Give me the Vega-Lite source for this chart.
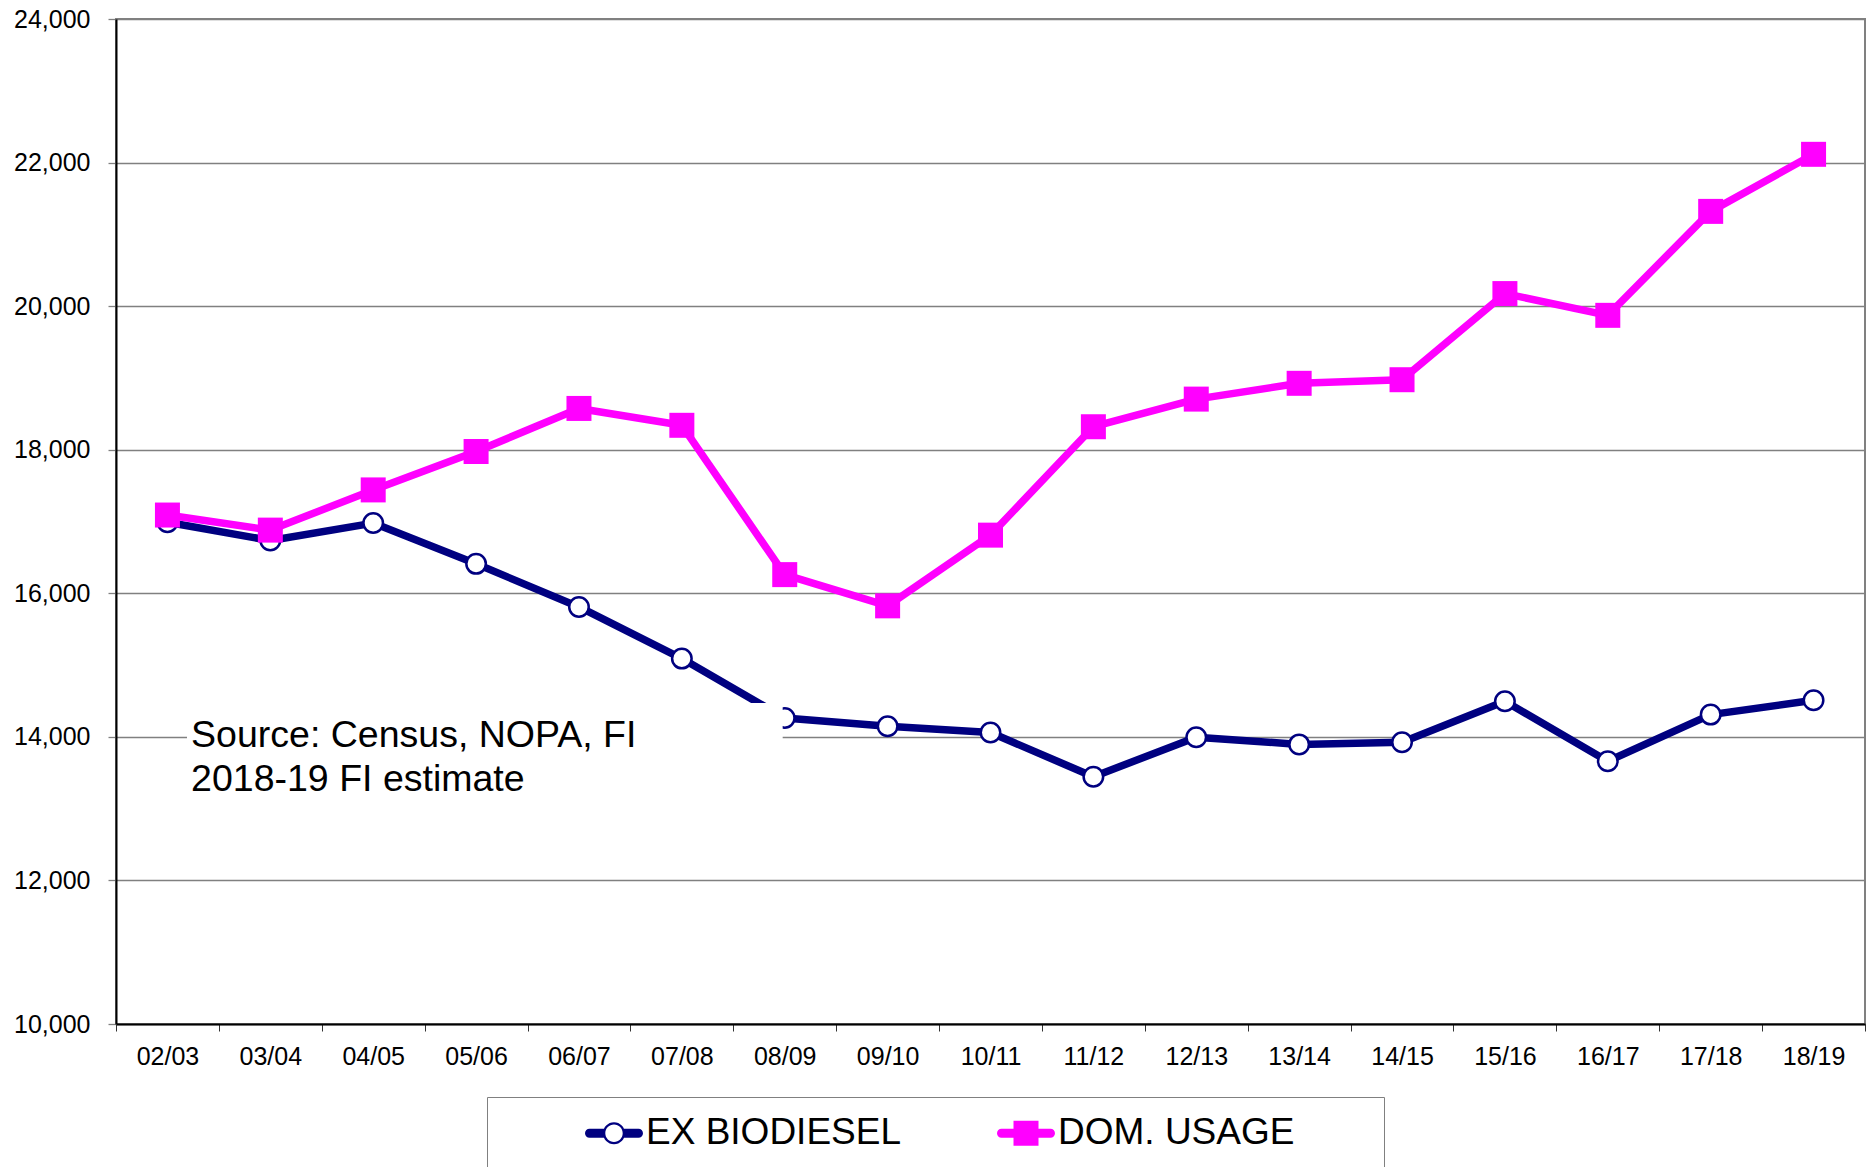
{
  "$schema": "https://vega.github.io/schema/vega-lite/v6.json",
  "width": 1749,
  "height": 1005,
  "autosize": {"type": "none"},
  "padding": {"left": 116, "top": 19, "right": 8, "bottom": 143},
  "background": "white",
  "config": {
    "font": "Liberation Sans",
    "view": {"stroke": "#808080", "strokeWidth": 2},
    "axis": {"labelFont": "Liberation Sans", "labelColor": "black", "labelFontSize": 25, "title": null}
  },
  "layer": [
    {
      "data": {"name": "soy"},
      "mark": {"type": "line", "strokeWidth": 7.5, "strokeJoin": "round"},
      "encoding": {
        "x": {
          "field": "year",
          "type": "quantitative",
          "scale": {"domain": [2001.5, 2018.5], "nice": false, "zero": false},
          "axis": {
            "title": null,
            "values": [2001.5, 2002, 2002.5, 2003, 2003.5, 2004, 2004.5, 2005, 2005.5, 2006, 2006.5, 2007, 2007.5, 2008, 2008.5, 2009, 2009.5, 2010, 2010.5, 2011, 2011.5, 2012, 2012.5, 2013, 2013.5, 2014, 2014.5, 2015, 2015.5, 2016, 2016.5, 2017, 2017.5, 2018, 2018.5],
            "labelExpr": "datum.value % 1 === 0 ? (format(datum.value % 100, '02d') + '/' + format((datum.value + 1) % 100, '02d')) : ''",
            "tickOpacity": {"condition": {"test": "datum.value % 1 === 0", "value": 0}, "value": 1},
            "grid": false,
            "domainColor": "black",
            "domainWidth": 2,
            "tickColor": "#333333",
            "tickSize": 7,
            "tickWidth": 1,
            "labelPadding": 13,
            "labelFontSize": 25,
            "labelOverlap": false,
            "labelFlush": false,
            "labelBound": false
          }
        },
        "y": {
          "field": "value",
          "type": "quantitative",
          "scale": {"domain": [10000, 24000], "nice": false, "zero": false},
          "axis": {
            "title": null,
            "values": [10000, 12000, 14000, 16000, 18000, 20000, 22000, 24000],
            "format": ",.0f",
            "grid": true,
            "gridColor": "#808080",
            "gridWidth": 1.3,
            "domainColor": "black",
            "domainWidth": 2,
            "tickColor": "#808080",
            "tickSize": 8,
            "tickWidth": 1.3,
            "labelPadding": 18,
            "labelFontSize": 25
          }
        },
        "color": {
          "field": "series",
          "type": "nominal",
          "scale": {"domain": ["EX BIODIESEL", "DOM. USAGE"], "range": ["#000080", "#FF00FF"]},
          "legend": {
            "title": null,
            "orient": "none",
            "legendX": 371,
            "legendY": 1078,
            "direction": "horizontal",
            "padding": 7,
            "strokeColor": "#808080",
            "fillColor": "white",
            "labelFont": "Liberation Sans",
            "labelFontSize": 37,
            "labelColor": "black",
            "labelLimit": 2000,
            "symbolSize": 3364,
            "symbolStrokeWidth": 0,
            "symbolOffset": 91,
            "labelOffset": 3,
            "columnPadding": 5,
            "labelExpr": "datum.value === 'DOM. USAGE' ? (datum.label + '\u00a0\u00a0\u00a0\u00a0\u00a0\u00a0\u00a0\u00a0\u200b') : datum.label",
            "encode": {
              "symbols": {
                "update": {
                  "shape": {"signal": "datum.value === 'EX BIODIESEL' ? 'M-0.845,-0.155L-0.34,-0.155L-0.34,0.155L-0.845,0.155A0.155,0.155,0,0,1,-0.845,-0.155ZM0.34,-0.155L0.845,-0.155A0.155,0.155,0,0,1,0.845,0.155L0.34,0.155ZM0.379,0A0.379,0.379,0,1,1,-0.379,0A0.379,0.379,0,1,1,0.379,0ZM0.3,0A0.3,0.3,0,1,0,-0.3,0A0.3,0.3,0,1,0,0.3,0ZM0,1.4' : 'M-0.845,-0.155L0.845,-0.155A0.155,0.155,0,0,1,0.845,0.155L-0.845,0.155A0.155,0.155,0,0,1,-0.845,-0.155ZM-0.431,-0.431L0.431,-0.431L0.431,0.431L-0.431,0.431ZM0,1.4'"},
                  "fill": {"signal": "datum.value === 'EX BIODIESEL' ? '#000080' : '#FF00FF'"},
                  "fillOpacity": {"value": 1},
                  "opacity": {"value": 1},
                  "stroke": {"value": "transparent"},
                  "strokeWidth": {"value": 0}
                }
              }
            }
          }
        }
      }
    },
    {
      "data": {"name": "soy"},
      "transform": [{"filter": "datum.series === 'EX BIODIESEL'"}],
      "mark": {"type": "point", "shape": "circle", "filled": true, "fill": "white", "stroke": "#000080", "strokeWidth": 2.5, "size": 380, "opacity": 1},
      "encoding": {
        "x": {"field": "year", "type": "quantitative"},
        "y": {"field": "value", "type": "quantitative"}
      }
    },
    {
      "data": {"name": "soy"},
      "transform": [{"filter": "datum.series === 'DOM. USAGE'"}],
      "mark": {"type": "square", "filled": true, "color": "#FF00FF", "size": 625, "opacity": 1},
      "encoding": {
        "x": {"field": "year", "type": "quantitative"},
        "y": {"field": "value", "type": "quantitative"}
      }
    },
    {
      "data": {"values": [{"note": "box"}]},
      "mark": {"type": "rect", "fill": "white", "strokeWidth": 0},
      "encoding": {
        "x": {"datum": 2002.19, "type": "quantitative"},
        "x2": {"datum": 2007.98},
        "y": {"datum": 14470, "type": "quantitative"},
        "y2": {"datum": 13050}
      }
    },
    {
      "data": {"values": [{"note": "Source: Census, NOPA, FI\n2018-19 FI estimate"}]},
      "mark": {"type": "text", "align": "left", "baseline": "alphabetic", "font": "Liberation Sans", "fontSize": 37.5, "lineHeight": 44, "lineBreak": "\n", "color": "black"},
      "encoding": {
        "x": {"datum": 2002.23, "type": "quantitative"},
        "y": {"datum": 13859, "type": "quantitative"},
        "text": {"field": "note", "type": "nominal"}
      }
    }
  ],
  "datasets": {
    "soy": [
      {"year": 2002, "season": "02/03", "series": "EX BIODIESEL", "value": 16990},
      {"year": 2003, "season": "03/04", "series": "EX BIODIESEL", "value": 16735},
      {"year": 2004, "season": "04/05", "series": "EX BIODIESEL", "value": 16978},
      {"year": 2005, "season": "05/06", "series": "EX BIODIESEL", "value": 16410},
      {"year": 2006, "season": "06/07", "series": "EX BIODIESEL", "value": 15810},
      {"year": 2007, "season": "07/08", "series": "EX BIODIESEL", "value": 15090},
      {"year": 2008, "season": "08/09", "series": "EX BIODIESEL", "value": 14262},
      {"year": 2009, "season": "09/10", "series": "EX BIODIESEL", "value": 14148},
      {"year": 2010, "season": "10/11", "series": "EX BIODIESEL", "value": 14060},
      {"year": 2011, "season": "11/12", "series": "EX BIODIESEL", "value": 13445},
      {"year": 2012, "season": "12/13", "series": "EX BIODIESEL", "value": 13995},
      {"year": 2013, "season": "13/14", "series": "EX BIODIESEL", "value": 13895},
      {"year": 2014, "season": "14/15", "series": "EX BIODIESEL", "value": 13925},
      {"year": 2015, "season": "15/16", "series": "EX BIODIESEL", "value": 14495},
      {"year": 2016, "season": "16/17", "series": "EX BIODIESEL", "value": 13660},
      {"year": 2017, "season": "17/18", "series": "EX BIODIESEL", "value": 14310},
      {"year": 2018, "season": "18/19", "series": "EX BIODIESEL", "value": 14510},
      {"year": 2002, "season": "02/03", "series": "DOM. USAGE", "value": 17090},
      {"year": 2003, "season": "03/04", "series": "DOM. USAGE", "value": 16880},
      {"year": 2004, "season": "04/05", "series": "DOM. USAGE", "value": 17440},
      {"year": 2005, "season": "05/06", "series": "DOM. USAGE", "value": 17975},
      {"year": 2006, "season": "06/07", "series": "DOM. USAGE", "value": 18575},
      {"year": 2007, "season": "07/08", "series": "DOM. USAGE", "value": 18340},
      {"year": 2008, "season": "08/09", "series": "DOM. USAGE", "value": 16260},
      {"year": 2009, "season": "09/10", "series": "DOM. USAGE", "value": 15825},
      {"year": 2010, "season": "10/11", "series": "DOM. USAGE", "value": 16810},
      {"year": 2011, "season": "11/12", "series": "DOM. USAGE", "value": 18320},
      {"year": 2012, "season": "12/13", "series": "DOM. USAGE", "value": 18705},
      {"year": 2013, "season": "13/14", "series": "DOM. USAGE", "value": 18925},
      {"year": 2014, "season": "14/15", "series": "DOM. USAGE", "value": 18975},
      {"year": 2015, "season": "15/16", "series": "DOM. USAGE", "value": 20175},
      {"year": 2016, "season": "16/17", "series": "DOM. USAGE", "value": 19872},
      {"year": 2017, "season": "17/18", "series": "DOM. USAGE", "value": 21320},
      {"year": 2018, "season": "18/19", "series": "DOM. USAGE", "value": 22115}
    ]
  }
}
